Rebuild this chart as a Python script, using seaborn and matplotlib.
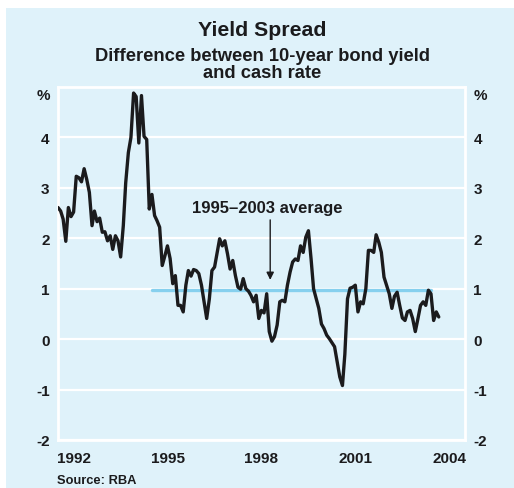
import matplotlib
matplotlib.use('Agg')
import matplotlib.pyplot as plt
from matplotlib.patches import Rectangle
import pandas as pd
import seaborn as sns

# monthly spread, Jan 1992 onwards
start_month = '1992-01-01'
spread = [
    2.61, 2.54, 2.38, 1.94, 2.61, 2.43, 2.52, 3.23, 3.20, 3.12, 3.38, 3.17,  # 1992
    2.91, 2.25, 2.54, 2.33, 2.40, 2.12, 2.13, 1.95, 2.05, 1.78, 2.05, 1.95,  # 1993
    1.63, 2.25, 3.10, 3.70, 4.00, 4.88, 4.81, 3.89, 4.83, 4.02, 3.96, 2.58,  # 1994
    2.87, 2.45, 2.35, 2.22, 1.46, 1.65, 1.85, 1.60, 1.10, 1.26, 0.67, 0.67,  # 1995
    0.54, 1.07, 1.36, 1.25, 1.38, 1.36, 1.30, 1.07, 0.74, 0.41, 0.80, 1.36,  # 1996
    1.43, 1.72, 1.99, 1.85, 1.95, 1.69, 1.39, 1.56, 1.26, 1.03, 0.99, 1.20,  # 1997
    1.00, 0.95, 0.87, 0.74, 0.87, 0.41, 0.57, 0.52, 0.90, 0.15, -0.04, 0.05,  # 1998
    0.28, 0.74, 0.77, 0.74, 1.07, 1.33, 1.53, 1.59, 1.56, 1.85, 1.72, 2.02,  # 1999
    2.15, 1.59, 1.00, 0.80, 0.61, 0.30, 0.21, 0.08, 0.01, -0.07, -0.15, -0.45,  # 2000
    -0.75, -0.92, -0.30, 0.80, 1.01, 1.03, 1.07, 0.54, 0.74, 0.70, 1.00, 1.76,  # 2001
    1.76, 1.72, 2.07, 1.92, 1.72, 1.23, 1.07, 0.90, 0.61, 0.85, 0.93, 0.67,  # 2002
    0.42, 0.37, 0.54, 0.57, 0.41, 0.15, 0.40, 0.67, 0.74, 0.67, 0.97, 0.90,  # 2003
    0.37, 0.54, 0.44,  # 2004
]
avg_period = ['1995-01-01', '2003-12-01']
avg_level = [0.97, 0.97]
y_ticks = [-2, -1, 0, 1, 2, 3, 4]
year_edges = list(range(1992, 2006))
label_years = [1992, 1995, 1998, 2001, 2004]
note_text = '1995–2003 average'

bg = '#dff2fa'
ink = '#1b1b1d'

sns.set_style('white')
plt.rcParams['font.family'] = ['Liberation Sans', 'DejaVu Sans']
plt.rcParams['font.weight'] = 'bold'
plt.rcParams['axes.unicode_minus'] = False

df = pd.DataFrame({'date': pd.date_range(start_month, periods=len(spread), freq='MS'),
                   'spread': spread})
avg_df = pd.DataFrame({'date': pd.to_datetime(avg_period), 'level': avg_level})

fig = plt.figure(figsize=(5.14, 4.89), dpi=100)
fig.patches.append(Rectangle((6 / 514, 0), 1, 1 - 9 / 489, transform=fig.transFigure,
                             facecolor=bg, edgecolor='none', zorder=-10))
ax = fig.add_axes([58 / 514, 1 - 441 / 489, 407 / 514, 353 / 489])
ax.set_facecolor(bg)

sns.lineplot(data=avg_df, x='date', y='level', ax=ax, color='#86d0ee', lw=2.4, zorder=2)
sns.lineplot(data=df, x='date', y='spread', ax=ax, color=ink, lw=2.4, zorder=3)

ax.set_xlim(pd.Timestamp('1992-01-01'), pd.Timestamp('2005-01-01'))
ax.set_ylim(-2, 5)
ax.set_xlabel('')
ax.set_ylabel('')

# y axis: labels on both sides, no tick marks
ax.set_yticks(y_ticks)
ax.set_yticklabels([str(v) for v in y_ticks])
ax.tick_params(axis='y', length=0, labelsize=11, labelright=True, left=False, right=False,
               pad=6, labelcolor=ink)
for lab in ax.get_yticklabels():
    lab.set_fontweight('bold')
ax.yaxis.grid(True, color='white', lw=1.6)
ax.xaxis.grid(False)
ax.set_axisbelow(True)

# x axis: year labels centred mid-year, white ticks at year boundaries
ax.set_xticks([pd.Timestamp(f'{y}-07-02') for y in label_years])
ax.set_xticklabels([str(y) for y in label_years])
ax.set_xticks([pd.Timestamp(f'{y}-01-01') for y in year_edges], minor=True)
ax.tick_params(axis='x', which='major', length=0, labelsize=11, pad=8, labelcolor=ink)
ax.tick_params(axis='x', which='minor', direction='in', length=8, width=1.5, color='white')
for lab in ax.get_xticklabels():
    lab.set_fontweight('bold')

for s in ax.spines.values():
    s.set_color('white')
    s.set_linewidth(2)

# percent signs
ax.annotate('%', xy=(0, 4.85), xycoords=('axes fraction', 'data'), xytext=(-6, 0),
            textcoords='offset points', ha='right', va='center', fontsize=11, weight='bold',
            color=ink)
ax.annotate('%', xy=(1, 4.85), xycoords=('axes fraction', 'data'), xytext=(6, 0),
            textcoords='offset points', ha='left', va='center', fontsize=11, weight='bold',
            color=ink)

# average annotation
ax.annotate('', xy=(pd.Timestamp('1998-10-12'), 1.12), xytext=(pd.Timestamp('1998-10-12'), 2.42),
            arrowprops=dict(arrowstyle='-|>', color=ink, lw=1, mutation_scale=11))
ax.text(pd.Timestamp('1998-09-10'), 2.62, note_text, ha='center', va='center',
        fontsize=12, weight='bold', color=ink)

fig.text(0.51, 1 - 31 / 489, 'Yield Spread', ha='center', va='center',
         fontsize=15.3, weight='bold', color=ink)
fig.text(0.51, 1 - 65 / 489, 'Difference between 10-year bond yield\nand cash rate',
         ha='center', va='center', fontsize=13.2, weight='bold', color=ink,
         linespacing=0.95)
fig.text(57 / 514, 1 - 481 / 489, 'Source: RBA', ha='left', va='center',
         fontsize=9.3, weight='bold', color=ink)

fig.savefig('out.png', dpi=100)
